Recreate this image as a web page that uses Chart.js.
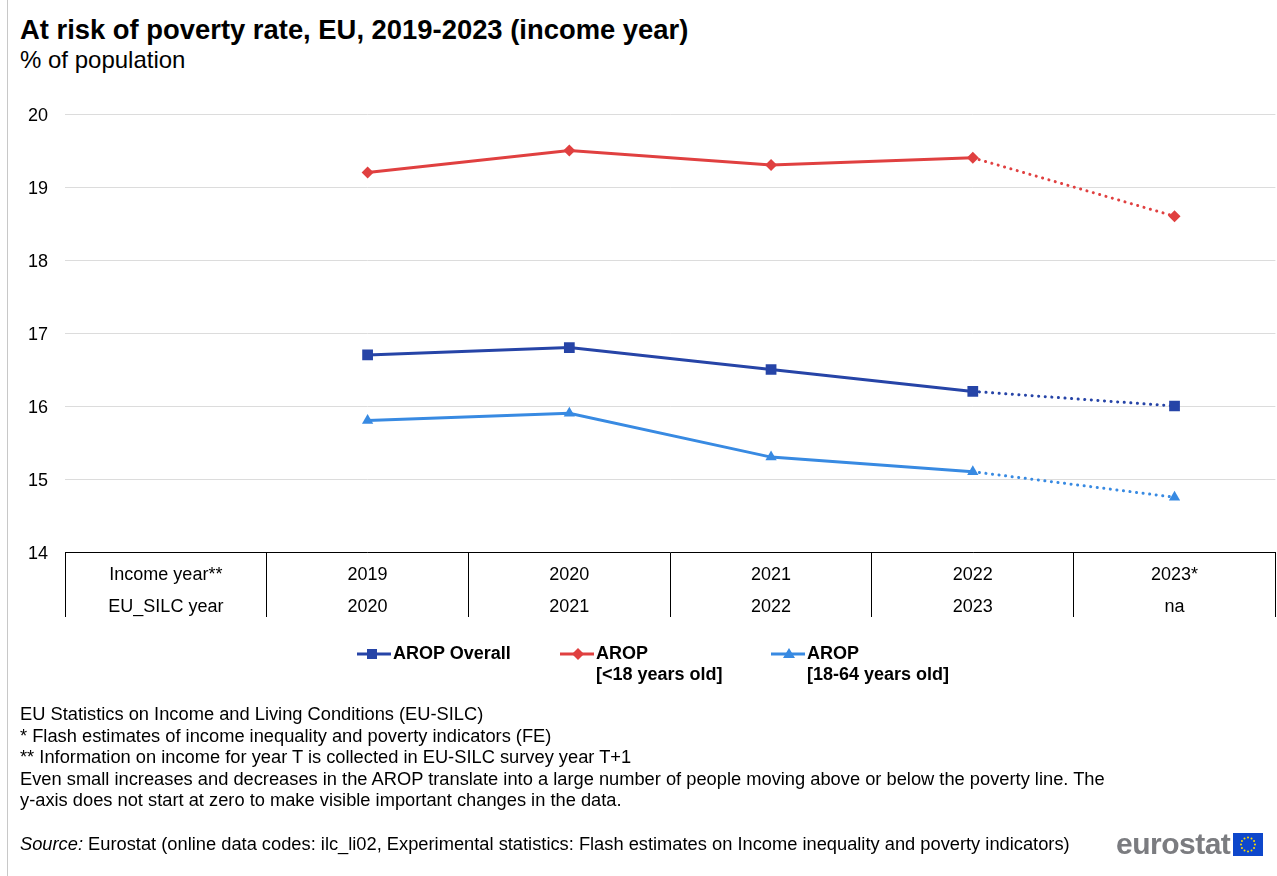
<!DOCTYPE html>
<html>
<head>
<meta charset="utf-8">
<script src="https://cdn.jsdelivr.net/npm/chart.js@4.4.1/dist/chart.umd.min.js"></script>
<style>
  html, body { margin: 0; padding: 0; background: #fff; }
  body { width: 1277px; height: 876px; position: relative; overflow: hidden; font-family: "Liberation Sans", Arial, sans-serif; color: #000; }
  #wrap { position: absolute; left: 0; top: 0; width: 1283px; height: 876px; }
  .txt { position: absolute; white-space: nowrap; }
  #title { left: 20px; top: 14px; font-size: 27.4px; font-weight: bold; line-height: 32px; }
  #subtitle { left: 20px; top: 46px; font-size: 24px; line-height: 28px; }
  #leftline { position: absolute; left: 7px; top: 0; width: 1px; height: 876px; background: #c8c8c8; }
  .leg { position: absolute; font-size: 18px; font-weight: bold; line-height: 21px; display: flex; align-items: flex-start; }
  .leg svg { margin-top: 1px; margin-right: 2px; flex: none; }
  #notes { left: 20px; top: 703px; font-size: 18.3px; line-height: 21.5px; }
  #source { left: 20px; top: 833px; font-size: 18.3px; line-height: 21px; }
  #logo { position: absolute; left: 1116px; top: 827px; font-size: 30px; font-weight: bold; color: #7b7c80; letter-spacing: -0.5px; line-height: 34px; }
</style>
</head>
<body>
<div id="leftline"></div>
<div class="txt" id="title">At risk of poverty rate, EU, 2019-2023 (income year)</div>
<div class="txt" id="subtitle">% of population</div>
<div id="wrap"><canvas id="c" width="1283" height="876"></canvas></div>

<div class="leg" style="left:357px; top:643px;">
  <svg width="34" height="20"><line x1="0" y1="10" x2="34" y2="10" stroke="#2644A7" stroke-width="3"/><rect x="10" y="5" width="10" height="10" fill="#2644A7"/></svg>
  <span>AROP Overall</span>
</div>
<div class="leg" style="left:560px; top:643px;">
  <svg width="34" height="20"><line x1="0" y1="10" x2="34" y2="10" stroke="#E04040" stroke-width="3"/><polygon points="18,4 24,10 18,16 12,10" fill="#E04040"/></svg>
  <span>AROP<br>[&lt;18 years old]</span>
</div>
<div class="leg" style="left:771px; top:643px;">
  <svg width="34" height="20"><line x1="0" y1="10" x2="34" y2="10" stroke="#388AE2" stroke-width="3"/><polygon points="18,4 24,14 12,14" fill="#388AE2"/></svg>
  <span>AROP<br>[18-64 years old]</span>
</div>

<div class="txt" id="notes">EU Statistics on Income and Living Conditions (EU-SILC)<br>* Flash estimates of income inequality and poverty indicators (FE)<br>** Information on income for year T is collected in EU-SILC survey year T+1<br>Even small increases and decreases in the AROP translate into a large number of people moving above or below the poverty line. The<br>y-axis does not start at zero to make visible important changes in the data.</div>
<div class="txt" id="source"><i>Source:</i> Eurostat (online data codes: ilc_li02, Experimental statistics: Flash estimates on Income inequality and poverty indicators)</div>
<div id="logo">eurostat</div>
<svg style="position:absolute; left:1233px; top:833px;" width="30" height="23">
  <rect x="0" y="0" width="30" height="23" fill="#0E47CB"/>
  <g fill="#FFDD00" id="stars"></g>
</svg>

<script>
// ---- data ----
const incomeYears = ["Income year**", "2019", "2020", "2021", "2022", "2023*"];
const silcYears   = ["EU_SILC year", "2020", "2021", "2022", "2023", "na"];
const seriesNames = ["AROP Overall", "AROP [<18 years old]", "AROP [18-64 years old]"];
const aropOverall = [16.7, 16.8, 16.5, 16.2, 16.0];
const aropUnder18 = [19.2, 19.5, 19.3, 19.4, 18.6];
const arop18to64  = [15.8, 15.9, 15.3, 15.1, 14.75];
const yTicks = [14, 15, 16, 17, 18, 19, 20];

// EU flag stars (decoration)
(function(){
  const g = document.getElementById('stars');
  for (let i = 0; i < 12; i++) {
    const a = i * Math.PI / 6;
    const c = document.createElementNS('http://www.w3.org/2000/svg', 'circle');
    c.setAttribute('cx', 15 + 7 * Math.cos(a));
    c.setAttribute('cy', 11.5 + 7 * Math.sin(a));
    c.setAttribute('r', 1);
    g.appendChild(c);
  }
})();

const labels = incomeYears.map((v, i) => [v, silcYears[i]]);
const dotted = ctx => ctx.p1DataIndex === labels.length - 1 ? [0.1, 6.5] : undefined;

function ds(name, vals, color, style, radius) {
  return {
    label: name,
    data: [null].concat(vals),
    borderColor: color,
    backgroundColor: color,
    borderWidth: 3,
    pointStyle: style,
    pointRadius: radius,
    pointHoverRadius: radius,
    pointBorderWidth: 0,
    borderCapStyle: 'round',
    tension: 0,
    segment: { borderDash: dotted }
  };
}

new Chart(document.getElementById('c'), {
  type: 'line',
  data: {
    labels: labels,
    datasets: [
      ds(seriesNames[0], aropOverall, '#2644A7', 'rect', 7.6),
      ds(seriesNames[1], aropUnder18, '#E04040', 'rectRot', 6),
      ds(seriesNames[2], arop18to64, '#388AE2', 'triangle', 6.5)
    ]
  },
  options: {
    responsive: false,
    animation: false,
    events: [],
    layout: { padding: { left: 0, right: 2, top: 114, bottom: 0 } },
    plugins: { legend: { display: false }, tooltip: { enabled: false }, title: { display: false } },
    scales: {
      x: {
        type: 'category',
        offset: true,
        grid: { offset: true, drawOnChartArea: false, drawTicks: true, tickLength: 65, color: '#000', lineWidth: 1 },
        border: { display: true, color: '#000', width: 1 },
        ticks: {
          autoSkip: false, maxRotation: 0, minRotation: 0, padding: -58,
          color: '#000',
          font: { family: '"Liberation Sans", Arial, sans-serif', size: 18, lineHeight: 32 / 18 }
        },
        afterFit: s => { s.height = 876 - 552; }
      },
      y: {
        min: 14, max: 20,
        afterBuildTicks: s => { s.ticks = yTicks.map(v => ({ value: v })); },
        grid: { color: '#dcdcdc', lineWidth: 1, drawTicks: false },
        border: { display: false },
        ticks: {
          padding: 17, color: '#000', labelOffset: 2,
          font: { family: '"Liberation Sans", Arial, sans-serif', size: 18 }
        },
        afterFit: s => { s.width = 65; }
      }
    }
  }
});
</script>
</body>
</html>
